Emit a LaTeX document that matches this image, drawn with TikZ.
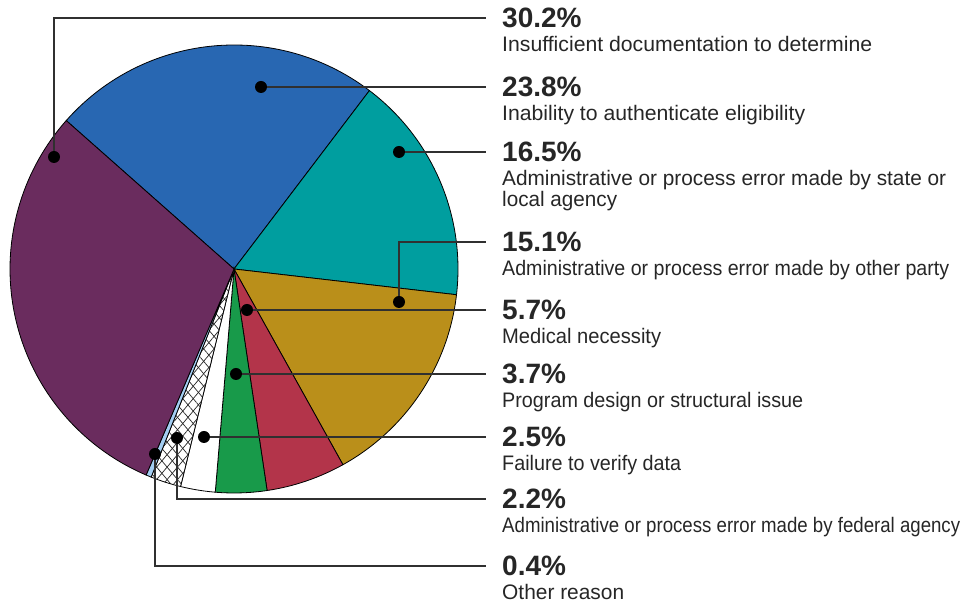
\documentclass[tikz,border=0pt]{standalone}
\usepackage{fontspec}
\setmainfont{Liberation Sans}
\usepackage{graphicx}
\usepackage{tikz}
\usetikzlibrary{patterns.meta}
\usetikzlibrary{calc}

\definecolor{piepurple}{HTML}{6A2C5E}
\definecolor{pieblue}{HTML}{2867B2}
\definecolor{pieteal}{HTML}{009E9F}
\definecolor{piegold}{HTML}{BA8F1A}
\definecolor{piered}{HTML}{B3344A}
\definecolor{piegreen}{HTML}{189A4A}
\definecolor{pielight}{HTML}{A3CDF2}
\definecolor{ink}{HTML}{262626}
\definecolor{leadgray}{HTML}{303030}
\newcommand{\fitline}[2]{\resizebox{#1}{\height}{#2}}

\begin{document}
\begin{tikzpicture}[x=1pt,y=1pt]
    \newcommand{\descgap}[0]{ 23.5pt }
    \newcommand{\pieslice}[3]{%
      \filldraw[wedge,#3] (hub) -- ++(#1:224pt)
        arc[start angle=#1,end angle=#2,radius=224pt] -- cycle;}
    \tikzstyle{wedge}=[draw=black, line width=0.8pt]
    \tikzstyle{dot}=[
      circle,
      fill=black,
      inner sep=0pt,
      minimum size=12pt,
    ]
    \tikzstyle{lead}=[line width=1.3pt,draw=leadgray]
    \tikzstyle{pct}=[
      anchor=west,
      inner sep=0pt,
      text=ink,
      font=\fontsize{28}{28}\selectfont\bfseries,
    ]
    \tikzstyle{desc}=[
      anchor=base west,
      inner sep=0pt,
      text=ink,
      align=left,
      font=\fontsize{21}{21}\selectfont,
    ]

    \useasboundingbox (0,0) rectangle (978,604);
    \coordinate (hub) at (234,335);

    \pieslice{138.5}{52.8}{fill=pieblue}
    \pieslice{52.8}{-6.6}{fill=pieteal}
    \pieslice{-6.6}{-60.9}{fill=piegold}
    \pieslice{-60.9}{-81.5}{fill=piered}
    \pieslice{-81.5}{-94.8}{fill=piegreen}
    \pieslice{-94.8}{-103.8}{fill=white}
    \pieslice{-103.8}{-111.7}{fill=white,
      postaction={pattern={Lines[angle=50,distance=8pt,line width=0.7pt]},pattern color=black!85},
      postaction={pattern={Lines[angle=-50,distance=8pt,line width=0.7pt]},pattern color=black!85}}
    \pieslice{-111.7}{-113.1}{fill=pielight}
    \pieslice{-113.1}{-221.5}{fill=piepurple}

    \node[dot] (d302) at (54,447) {};
    \node[dot] (d238) at (261,517) {};
    \node[dot] (d165) at (399,452) {};
    \node[dot] (d151) at (399,302) {};
    \node[dot] (d57) at (247,294) {};
    \node[dot] (d37) at (236,230) {};
    \node[dot] (d25) at (204,167) {};
    \node[dot] (d22) at (177,166) {};
    \node[dot] (d04) at (155,150) {};

    \node[pct] (p302) at (502,586) {30.2\%};
    \node[pct] (p238) at (502,517) {23.8\%};
    \node[pct] (p165) at (502,452) {16.5\%};
    \node[pct] (p151) at (502,362) {15.1\%};
    \node[pct] (p57) at (502,294) {5.7\%};
    \node[pct] (p37) at (502,230) {3.7\%};
    \node[pct] (p25) at (502,167) {2.5\%};
    \node[pct] (p22) at (502,105) {2.2\%};
    \node[pct] (p04) at (502,38) {0.4\%};

    \node[desc] (t302) at ([yshift=-\descgap]p302.base west) {\fitline{370pt}{Insufficient documentation to determine}};
    \node[desc] (t238) at ([yshift=-\descgap]p238.base west) {\fitline{303pt}{Inability to authenticate eligibility}};
    \node[desc] (t165) at ([yshift=-\descgap-21pt]p165.base west) {\fitline{444pt}{Administrative or process error made by state or}\\\fitline{115pt}{local agency}};
    \node[desc] (t151) at ([yshift=-\descgap]p151.base west) {\fitline{447pt}{Administrative or process error made by other party}};
    \node[desc] (t57) at ([yshift=-\descgap]p57.base west) {\fitline{159pt}{Medical necessity}};
    \node[desc] (t37) at ([yshift=-\descgap]p37.base west) {\fitline{301pt}{Program design or structural issue}};
    \node[desc] (t25) at ([yshift=-\descgap]p25.base west) {\fitline{179pt}{Failure to verify data}};
    \node[desc] (t22) at ([yshift=-\descgap]p22.base west) {\fitline{458pt}{Administrative or process error made by federal agency}};
    \node[desc] (t04) at ([yshift=-\descgap]p04.base west) {\fitline{122pt}{Other reason}};

    \draw[lead] (d302) |- ([xshift=-16pt]p302.west);
    \draw[lead] (d238) -- ([xshift=-16pt]p238.west);
    \draw[lead] (d165) -- ([xshift=-16pt]p165.west);
    \draw[lead] (d151) |- ([xshift=-16pt]p151.west);
    \draw[lead] (d57) -- ([xshift=-16pt]p57.west);
    \draw[lead] (d37) -- ([xshift=-16pt]p37.west);
    \draw[lead] (d25) -- ([xshift=-16pt]p25.west);
    \draw[lead] (d22) |- ([xshift=-16pt]p22.west);
    \draw[lead] (d04) |- ([xshift=-16pt]p04.west);
  \end{tikzpicture}
\end{document}
